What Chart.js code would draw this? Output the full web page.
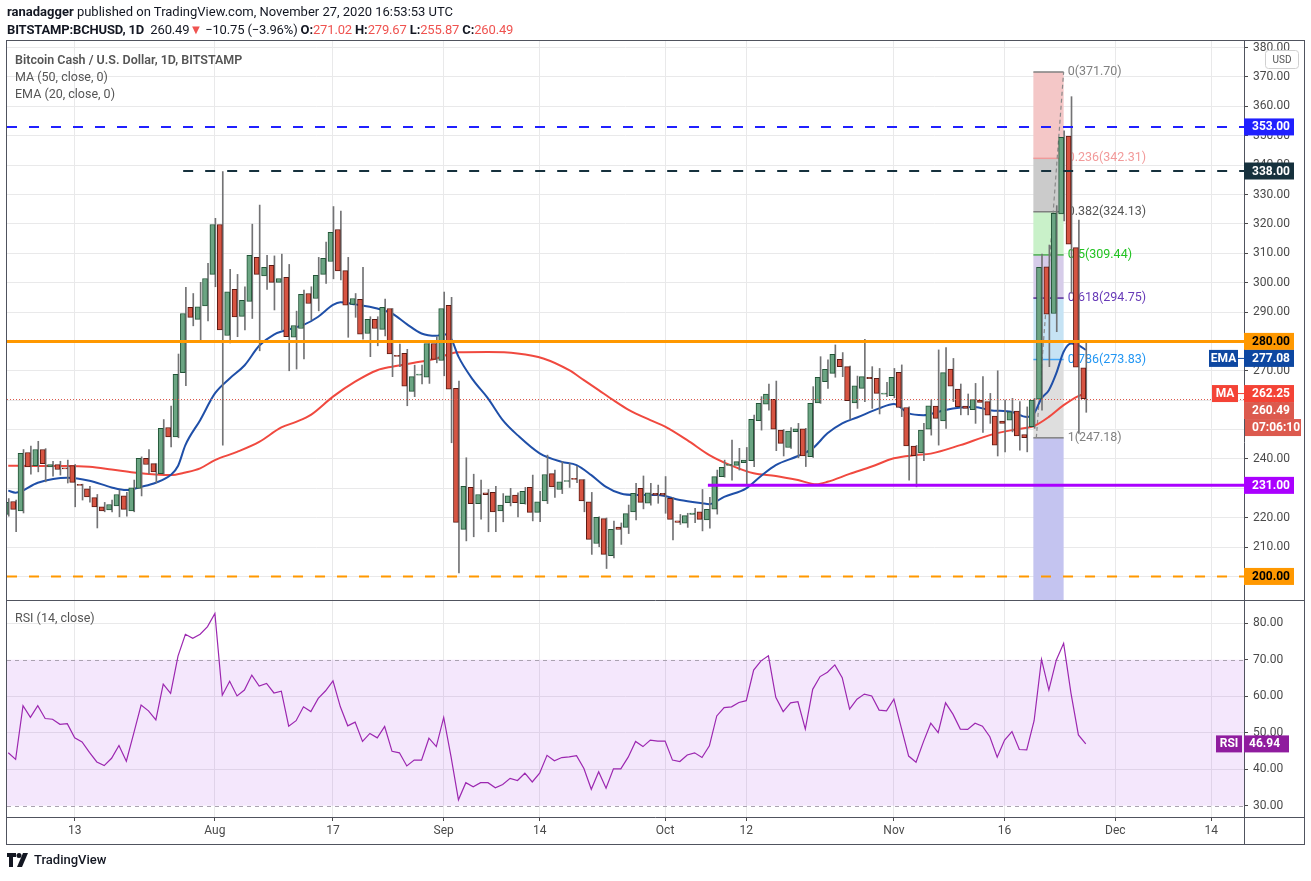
<!DOCTYPE html>
<html>
<head>
<meta charset="utf-8">
<title>BCHUSD 1D</title>
<script src="https://cdn.jsdelivr.net/npm/chart.js@4.4.1/dist/chart.umd.min.js"></script>
<style>
  html, body { margin: 0; padding: 0; background: #fff; }
  body { width: 1311px; height: 881px; position: relative; overflow: hidden; font-family: Roboto, sans-serif; color: #131722; }
  #chart { position: absolute; left: 0; top: 0; }
  .txt { position: absolute; white-space: nowrap; }
  .hdr { font-size: 13px; left: 7px; }
  .red { color: #ef5350; }
  .leg { left: 15px; font-size: 12.5px; color: #555; }
  #logo { left: 7px; top: 852px; font-size: 13px; font-weight: 500; color: #131722; display: flex; align-items: center; gap: 5px; }
</style>
</head>
<body>
<canvas id="chart" width="1311" height="881"></canvas>

<div class="txt hdr" style="top:4px"><b>ranadagger</b> published on TradingView.com, November 27, 2020 16:53:53 UTC</div>
<div class="txt hdr" style="top:22px; letter-spacing:-0.15px"><b>BITSTAMP:BCHUSD, 1D</b>&nbsp; 260.49<span class="red">▼</span> −10.75 (−3.96%) <b>O:</b><span class="red">271.02</span> <b>H:</b><span class="red">279.67</span> <b>L:</b><span class="red">255.87</span> <b>C:</b><span class="red">260.49</span></div>

<div class="txt leg" style="top:52px; font-weight:600">Bitcoin Cash / U.S. Dollar, 1D, BITSTAMP</div>
<div class="txt leg" style="top:69px">MA (50, close, 0)</div>
<div class="txt leg" style="top:86px">EMA (20, close, 0)</div>
<div class="txt leg" style="top:610px">RSI (14, close)</div>

<div class="txt" id="logo">
  <svg width="22" height="14" viewBox="0 0 22 14">
    <path d="M0 0h9v4H6v10H2V4H0z" fill="#131722"/>
    <circle cx="12" cy="2.5" r="2.5" fill="#131722"/>
    <path d="M16 0h5l-6 14h-5z" fill="#131722"/>
  </svg>
  <span>TradingView</span>
</div>

<script>
// Velas diarias desde el 4 de julio de 2020 (indice 0) hasta el 27 de noviembre (indice 146)
const candleOpen = [
  221.1, 225.5, 222.3, 242.2, 237.7, 243.2, 237.3, 238.1, 236.8, 237.7,
  231.2, 229.8, 226.8, 223.7, 222.6, 224.0, 227.4, 222.3, 230.0, 240.2,
  238.4, 235.0, 250.7, 247.5, 269.4, 291.6, 287.5, 292.1, 302.8, 319.8,
  282.0, 297.7, 288.5, 293.6, 308.6, 302.3, 305.9, 300.1, 301.8, 281.4,
  284.4, 296.3, 294.6, 302.8, 307.2, 318.1, 304.1, 292.6, 294.3, 282.7,
  287.5, 284.1, 291.2, 275.3, 275.9, 263.0, 268.5, 267.8, 279.3, 273.5,
  292.3, 264.0, 216.0, 230.3, 224.8, 228.5, 228.6, 222.3, 225.1, 227.7,
  224.8, 230.3, 221.8, 225.7, 235.0, 229.6, 232.3, 233.4, 233.0, 225.4,
  211.2, 219.7, 207.1, 216.8, 216.7, 222.0, 230.0, 224.9, 228.3, 228.3,
  226.6, 218.9, 218.1, 221.1, 222.0, 219.2, 222.9, 234.0, 237.8, 237.8,
  238.7, 239.4, 253.0, 258.6, 260.3, 249.8, 243.9, 249.3, 250.2, 240.8,
  259.1, 266.3, 269.1, 273.9, 271.4, 259.1, 264.0, 267.8, 267.4, 262.0,
  261.5, 269.5, 257.5, 244.4, 242.1, 250.1, 258.0, 252.9, 270.6, 263.8,
  258.0, 256.8, 260.0, 259.5, 254.6, 252.9, 253.2, 256.3, 248.3, 251.0,
  260.3, 305.4, 289.5, 323.4, 349.9, 311.9, 271.02
];
const candleHigh = [
  226.5, 226.0, 243.2, 244.4, 246.0, 243.5, 239.2, 239.2, 239.6, 238.1,
  231.4, 230.7, 227.9, 225.2, 226.0, 229.4, 228.6, 232.8, 240.7, 243.2,
  238.4, 253.4, 258.0, 275.7, 298.4, 296.3, 300.1, 306.6, 321.9, 337.8,
  304.5, 302.8, 298.6, 319.9, 326.4, 309.3, 309.1, 309.7, 306.2, 290.3,
  297.5, 298.6, 308.6, 313.8, 325.9, 324.4, 308.6, 296.3, 305.2, 288.4,
  288.4, 294.4, 291.2, 279.1, 277.3, 271.9, 271.9, 279.3, 281.6, 296.8,
  295.0, 266.5, 240.4, 234.8, 232.8, 229.6, 230.7, 228.2, 230.0, 228.5,
  230.3, 234.5, 229.0, 241.3, 236.2, 239.0, 238.4, 237.5, 233.0, 228.6,
  220.3, 219.9, 218.8, 218.2, 224.3, 231.7, 234.2, 231.7, 231.1, 234.0,
  226.8, 221.1, 221.5, 223.2, 229.6, 226.9, 236.2, 239.6, 246.4, 243.6,
  243.9, 254.9, 261.2, 265.5, 266.5, 250.0, 250.7, 252.1, 250.4, 264.6,
  274.8, 273.7, 278.8, 276.2, 271.6, 268.2, 280.7, 271.4, 270.8, 266.1,
  270.8, 272.0, 257.7, 244.6, 252.1, 260.1, 277.1, 277.9, 274.2, 265.5,
  262.1, 265.7, 268.0, 262.3, 270.0, 260.0, 260.6, 259.5, 257.7, 260.6,
  309.7, 312.8, 326.2, 351.7, 363.3, 321.3, 279.67
];
const candleLow = [
  220.5, 215.2, 221.6, 234.8, 235.6, 232.2, 234.1, 234.5, 231.8, 223.7,
  226.0, 225.3, 216.5, 222.0, 222.0, 220.3, 220.5, 222.0, 227.4, 235.0,
  231.9, 234.8, 244.1, 247.2, 264.9, 285.3, 280.2, 287.0, 298.6, 244.7,
  279.5, 281.6, 283.9, 287.8, 276.8, 297.7, 290.7, 283.9, 270.0, 270.6,
  274.0, 287.3, 290.4, 299.7, 301.3, 300.9, 281.4, 288.2, 280.8, 274.8,
  278.5, 281.9, 268.0, 271.4, 258.1, 261.2, 265.5, 265.7, 272.7, 268.3,
  245.5, 201.2, 212.1, 213.5, 219.5, 215.2, 215.2, 218.6, 224.0, 220.3,
  224.6, 218.9, 218.6, 224.8, 226.9, 228.2, 230.3, 231.9, 222.0, 207.5,
  210.1, 202.7, 206.3, 210.9, 214.6, 219.2, 223.0, 224.3, 224.9, 221.5,
  212.4, 217.7, 216.7, 218.3, 215.5, 216.4, 221.2, 233.8, 232.8, 236.2,
  231.3, 237.4, 249.8, 256.6, 242.8, 241.0, 243.6, 240.4, 237.4, 240.5,
  258.9, 264.0, 267.8, 268.0, 253.5, 257.2, 259.5, 257.2, 255.3, 261.2,
  260.8, 254.4, 232.8, 230.5, 239.4, 248.1, 244.7, 250.4, 259.5, 255.0,
  255.0, 252.1, 249.0, 252.1, 241.0, 242.4, 249.2, 243.0, 242.4, 250.4,
  256.6, 271.4, 283.3, 321.0, 296.4, 248.7, 255.87
];
const candleClose = [
  225.2, 222.8, 241.9, 237.3, 243.2, 238.4, 238.1, 236.4, 236.6, 232.0,
  231.0, 227.1, 223.7, 222.3, 224.5, 227.9, 222.8, 230.2, 240.2, 238.1,
  235.6, 250.4, 247.5, 268.8, 289.5, 288.2, 291.8, 301.4, 319.8, 283.9,
  296.9, 288.3, 294.0, 309.3, 302.8, 305.2, 300.1, 301.4, 281.6, 285.4,
  296.0, 292.9, 302.5, 308.3, 317.1, 304.0, 292.3, 294.6, 282.5, 287.5,
  284.4, 291.6, 275.7, 274.9, 264.8, 268.0, 268.7, 279.3, 273.9, 291.2,
  263.7, 218.4, 230.7, 224.8, 227.9, 227.8, 222.0, 224.3, 227.4, 225.1,
  229.0, 221.8, 225.4, 234.7, 230.5, 232.2, 232.6, 233.0, 225.7, 212.6,
  220.1, 207.5, 216.0, 216.0, 221.4, 228.3, 225.2, 228.5, 227.7, 227.7,
  219.4, 218.4, 220.7, 221.6, 219.4, 222.8, 234.0, 237.1, 238.2, 239.1,
  239.6, 253.5, 258.9, 262.1, 250.1, 245.3, 249.5, 250.2, 241.0, 258.9,
  267.8, 270.5, 275.6, 271.4, 259.8, 264.9, 268.0, 267.3, 262.3, 262.4,
  267.8, 257.5, 244.4, 241.1, 249.8, 258.1, 253.8, 269.4, 264.8, 257.8,
  257.2, 260.2, 259.2, 254.9, 244.7, 252.1, 256.0, 247.8, 247.2, 260.0,
  305.2, 289.3, 323.6, 349.5, 313.1, 271.2, 260.49
];

// EMA 20 y MA 50 (indice de dia, valor)
const emaDays = [0, 1, 4, 8, 11, 14, 16, 18, 20, 22, 23, 24, 26, 28, 30, 32, 34, 36, 38, 40, 42, 44, 45, 47, 50, 52, 54, 56, 58, 59, 60, 61, 63, 65, 67, 69, 72, 75, 77, 79, 81, 83, 85, 88, 91, 94, 95, 97, 100, 102, 104, 107, 109, 111, 113, 115, 118, 120, 122, 124, 126, 128, 131, 133, 136, 138, 139, 140, 141, 142, 143, 144, 145, 146];
const emaValues = [229.2, 228.5, 231.9, 233.6, 232.6, 230.3, 229.4, 230.5, 231.9, 234.5, 237.6, 244.7, 253.2, 262.3, 267.4, 271.8, 278.5, 282.3, 284.1, 285.6, 288.4, 292.4, 293.3, 292.6, 291.2, 289.5, 285.9, 282.7, 281.9, 282.4, 281.0, 274.8, 266.8, 260.6, 253.2, 248.1, 241.9, 239.0, 237.9, 234.5, 230.5, 228.2, 227.7, 227.7, 226.0, 224.9, 224.6, 227.1, 230.0, 234.2, 237.9, 241.0, 243.6, 248.7, 252.1, 254.1, 257.2, 258.7, 255.5, 254.9, 256.0, 257.2, 257.7, 256.6, 256.0, 254.3, 255.5, 260.6, 263.4, 269.1, 276.5, 279.3, 278.7, 277.08];
const maDays = [0, 4, 8, 11, 14, 17, 20, 22, 24, 26, 28, 31, 34, 37, 39, 41, 44, 47, 50, 52, 55, 58, 60, 61, 65, 69, 72.5, 76, 78, 80, 82, 84, 87, 89, 92, 95, 98, 101, 104, 107, 109.5, 111, 114, 117, 120, 123, 125, 129, 133, 136, 138, 139, 141, 143, 145, 146];
const maValues = [237.7, 237.6, 237.6, 237.3, 236.4, 235.4, 234.7, 234.5, 235.4, 236.8, 239.6, 242.4, 245.8, 250.7, 252.6, 255.0, 261.2, 266.3, 270.2, 271.4, 272.7, 274.2, 275.9, 276.3, 276.4, 275.9, 274.2, 270.2, 266.8, 263.4, 260.0, 256.8, 253.2, 251.0, 246.4, 241.3, 237.7, 235.1, 234.2, 232.8, 231.4, 232.2, 234.9, 237.4, 240.2, 241.3, 241.8, 244.7, 248.1, 249.8, 250.6, 251.2, 254.3, 258.3, 261.4, 262.25];

// RSI 14 diario
const rsiValues = [
  44.5, 42.7, 57.4, 54.2, 57.4, 53.9, 53.7, 52.3, 52.5, 48.6,
  47.5, 44.6, 42.0, 41.0, 43.0, 46.5, 42.2, 49.8, 57.6, 56.0,
  53.5, 63.3, 60.8, 71.0, 77.0, 75.9, 77.0, 79.1, 82.7, 60.3,
  64.1, 60.1, 61.7, 65.8, 62.8, 63.5, 60.9, 61.4, 51.8, 53.3,
  57.1, 55.8, 59.4, 61.5, 64.2, 57.1, 51.9, 52.9, 47.6, 49.8,
  48.6, 51.7, 44.9, 44.5, 40.9, 42.5, 42.5, 48.5, 46.2, 54.2,
  43.4, 31.6, 36.3, 35.2, 36.3, 36.3, 34.9, 35.8, 37.5, 36.9,
  38.9, 36.5, 38.9, 43.8, 42.3, 43.2, 43.4, 43.7, 40.2, 34.5,
  39.3, 34.8, 40.1, 40.1, 43.3, 47.6, 46.2, 48.0, 47.7, 47.7,
  42.5, 42.1, 43.9, 44.5, 43.2, 46.4, 54.6, 56.9, 57.1, 58.3,
  58.8, 67.2, 69.7, 71.1, 59.7, 55.8, 58.2, 58.5, 51.0, 61.9,
  65.4, 66.6, 68.6, 65.1, 56.5, 59.2, 60.6, 60.1, 56.2, 56.0,
  59.2, 51.4, 43.6, 41.9, 47.5, 52.6, 50.0, 58.2, 55.1, 51.0,
  50.9, 52.6, 51.8, 48.9, 43.3, 48.0, 50.3, 45.4, 45.3, 53.3,
  70.1, 61.7, 69.9, 74.5, 60.8, 49.4, 46.94
];

// Etiquetas del eje de fechas
const tickDays = [9, 28, 44, 59, 72, 89, 100, 120, 135, 150, 163];
const tickLabels = ['13', 'Aug', '17', 'Sep', '14', 'Oct', '12', 'Nov', '16', 'Dec', '14'];

// Niveles horizontales dibujados a mano en el grafico
const levelPrices = [353, 338, 280, 231, 200];
const levelStartDays = [-1, 23.7, -1, 94.8, -1];
const levelStyles = [
  { color: '#2020ff', width: 2, dash: [10, 12] },
  { color: '#16313d', width: 2, dash: [10, 12] },
  { color: '#ff9800', width: 3, dash: [] },
  { color: '#aa00ff', width: 3, dash: [] },
  { color: '#ff9800', width: 2, dash: [10, 12] }
];

// Retroceso de Fibonacci
const fibRatios = ['0', '0.236', '0.382', '0.5', '0.618', '0.786', '1'];
const fibPrices = [371.70, 342.31, 324.13, 309.44, 294.75, 273.83, 247.18];
const fibStartDay = 138.9;
const fibEndDay = 143.0;
const fibFills = ['#f4c7c7', '#cbcbcb', '#c9f1c9', '#d6cce9', '#c6e3f4', '#dedede'];
const fibBelowFill = '#c4c4f0';
const fibLineColors = ['#808080', '#f09a9a', '#808080', '#4caf50', '#5b2c99', '#42a5f5', '#808080'];
const fibTextColors = ['#808080', '#f29a9a', '#555555', '#22c322', '#673ab7', '#2196f3', '#808080'];

const lastPrice = 260.49;
const GREEN = '#6ba583', RED = '#d75442', GREEN_B = '#225437', RED_B = '#5b1a13';
const GRID = '#e9e9ea', TEXT = '#4a4a4a', FRAME = '#50535e';
const FONT = 'Roboto, sans-serif';

// Cajas de precio en el eje derecho
function drawBoxes(ctx, y, r, area) {
  const boxes = [
    { v: 353, bg: '#2020ff', fg: '#fff', t: '353.00' },
    { v: 338, bg: '#16313d', fg: '#fff', t: '338.00' },
    { v: 280, bg: '#ff9800', fg: '#000', t: '280.00' },
    { v: 277.08, bg: '#0d47a1', fg: '#fff', t: '277.08', tag: 'EMA' },
    { v: 262.25, bg: '#f44336', fg: '#fff', t: '262.25', tag: 'MA' },
    { v: lastPrice, bg: '#dc5a4e', fg: '#fff', t: '260.49' },
    { v: lastPrice, bg: '#dc5a4e', fg: '#fff', t: '07:06:10', wide: true },
    { v: 231, bg: '#aa00ff', fg: '#fff', t: '231.00' },
    { v: 200, bg: '#ff9800', fg: '#000', t: '200.00' }
  ];
  const h = 17;
  let prevBottom = -1e9;
  ctx.font = 'bold 12px ' + FONT;
  ctx.textBaseline = 'middle';
  boxes.forEach(b => {
    let cy = y.getPixelForValue(b.v);
    if (cy - h / 2 < prevBottom) cy = prevBottom + h / 2;
    prevBottom = cy + h / 2;
    const x0 = area.right;
    const w = b.wide ? 56 : 50;
    ctx.fillStyle = b.bg;
    ctx.fillRect(x0 + (b.wide ? 1 : 0), cy - h / 2, w, h);
    ctx.fillStyle = b.fg;
    ctx.textAlign = 'left';
    ctx.fillText(b.t, x0 + 8, cy + 0.5);
    if (b.tag) {
      const tw = b.tag === 'EMA' ? 29 : 26;
      ctx.fillStyle = b.bg;
      ctx.fillRect(x0 - tw - 6, cy - h / 2, tw, h);
      ctx.fillRect(x0 - 6, cy - 0.5, 6, 1);
      ctx.fillStyle = '#fff';
      ctx.textAlign = 'center';
      ctx.fillText(b.tag, x0 - tw / 2 - 6, cy + 0.5);
    }
  });

  // RSI
  const ry = r.getPixelForValue(rsiValues[rsiValues.length - 1]);
  ctx.fillStyle = '#8f1c9e';
  ctx.fillRect(area.right, ry - h / 2, 45, h);
  ctx.fillRect(area.right - 28, ry - h / 2, 26, h);
  ctx.fillStyle = '#fff';
  ctx.textAlign = 'left';
  ctx.fillText('46.94', area.right + 5, ry + 0.5);
  ctx.textAlign = 'center';
  ctx.fillText('RSI', area.right - 15, ry + 0.5);

  // USD
  ctx.fillStyle = '#fff';
  ctx.strokeStyle = '#d0d0d0';
  ctx.lineWidth = 1;
  ctx.beginPath();
  ctx.roundRect(1265.5, 50.5, 33, 18, 3);
  ctx.fill();
  ctx.stroke();
  ctx.fillStyle = '#555';
  ctx.font = '10px ' + FONT;
  ctx.fillText('USD', 1282, 60);
}

const overlays = {
  id: 'overlays',
  beforeDatasetsDraw(chart) {
    const { ctx, chartArea, scales } = chart;
    const x = scales.x, y = scales.y, r = scales.rsi;
    ctx.save();

    // Banda RSI 30-70
    const y70 = r.getPixelForValue(70), y30 = r.getPixelForValue(30);
    ctx.fillStyle = 'rgba(155, 39, 230, 0.11)';
    ctx.fillRect(chartArea.left, y70, chartArea.right - chartArea.left, y30 - y70);
    ctx.strokeStyle = '#aaa2b0';
    ctx.lineWidth = 1;
    ctx.setLineDash([4, 4]);
    [y70, y30].forEach(py => {
      ctx.beginPath();
      ctx.moveTo(chartArea.left, Math.round(py) + 0.5);
      ctx.lineTo(chartArea.right, Math.round(py) + 0.5);
      ctx.stroke();
    });
    ctx.setLineDash([]);

    // Fibonacci
    ctx.beginPath();
    ctx.rect(chartArea.left, y.top, chartArea.right - chartArea.left, y.bottom - y.top);
    ctx.clip();
    const fx0 = x.getPixelForValue(fibStartDay), fx1 = x.getPixelForValue(fibEndDay);
    for (let i = 0; i < fibFills.length; i++) {
      const a = y.getPixelForValue(fibPrices[i]), b = y.getPixelForValue(fibPrices[i + 1]);
      ctx.fillStyle = fibFills[i];
      ctx.fillRect(fx0, a, fx1 - fx0, b - a);
    }
    const yLow = y.getPixelForValue(fibPrices[fibPrices.length - 1]);
    ctx.fillStyle = fibBelowFill;
    ctx.fillRect(fx0, yLow, fx1 - fx0, y.bottom - yLow);
    ctx.font = '12.5px ' + FONT;
    ctx.textAlign = 'left';
    ctx.textBaseline = 'middle';
    fibPrices.forEach((p, i) => {
      const py = y.getPixelForValue(p);
      ctx.strokeStyle = fibLineColors[i];
      ctx.lineWidth = 1.5;
      ctx.beginPath();
      ctx.moveTo(fx0, py);
      ctx.lineTo(fx1, py);
      ctx.stroke();
      ctx.fillStyle = fibTextColors[i];
      ctx.fillText(fibRatios[i] + '(' + p.toFixed(2) + ')', fx1 + 4, py);
    });
    // linea de tendencia punteada
    ctx.strokeStyle = '#8a8a8a';
    ctx.lineWidth = 1.2;
    ctx.setLineDash([4, 3]);
    ctx.beginPath();
    ctx.moveTo(x.getPixelForValue(139.3), y.getPixelForValue(fibPrices[6]));
    ctx.lineTo(x.getPixelForValue(fibEndDay), y.getPixelForValue(fibPrices[0]));
    ctx.stroke();
    ctx.restore();
  },
  afterDatasetsDraw(chart) {
    const { ctx, chartArea, scales } = chart;
    const x = scales.x, y = scales.y, r = scales.rsi;
    ctx.save();
    ctx.beginPath();
    ctx.rect(chartArea.left, y.top, chartArea.right - chartArea.left, y.bottom - y.top);
    ctx.clip();

    // Precio actual
    const pyLast = Math.round(y.getPixelForValue(lastPrice)) + 0.5;
    ctx.strokeStyle = '#dc5a4e';
    ctx.lineWidth = 1;
    ctx.setLineDash([1, 2]);
    ctx.beginPath();
    ctx.moveTo(chartArea.left, pyLast);
    ctx.lineTo(chartArea.right, pyLast);
    ctx.stroke();

    // Soportes y resistencias
    levelPrices.forEach((p, i) => {
      const s = levelStyles[i];
      const py = y.getPixelForValue(p);
      const xs = levelStartDays[i] < 0 ? chartArea.left : x.getPixelForValue(levelStartDays[i]);
      ctx.strokeStyle = s.color;
      ctx.lineWidth = s.width;
      ctx.setLineDash(s.dash);
      ctx.beginPath();
      ctx.moveTo(xs, py);
      ctx.lineTo(chartArea.right, py);
      ctx.stroke();
    });
    ctx.restore();

    // Marco de los paneles
    ctx.save();
    ctx.strokeStyle = FRAME;
    ctx.lineWidth = 1;
    const L = chartArea.left - 0.5, R = 1304.5, T = chartArea.top + 0.5, B = 844.5;
    ctx.strokeRect(L, T, R - L, B - T);
    ctx.beginPath();
    ctx.moveTo(chartArea.right + 0.5, T); ctx.lineTo(chartArea.right + 0.5, B);
    ctx.moveTo(L, Math.round(y.bottom) + 0.5); ctx.lineTo(R, Math.round(y.bottom) + 0.5);
    ctx.moveTo(L, Math.round(chartArea.bottom) + 0.5); ctx.lineTo(R, Math.round(chartArea.bottom) + 0.5);
    ctx.stroke();

    drawBoxes(ctx, y, r, chartArea);
    ctx.restore();
  }
};

// Datos para Chart.js
const days = candleOpen.map((v, i) => i);
const wickData = days.map(i => ({ x: i, y: [candleLow[i], candleHigh[i]] }));
const bodyData = days.map(i => ({ x: i, y: [candleOpen[i], candleClose[i]] }));
const isUp = days.map(i => candleClose[i] >= candleOpen[i]);

Chart.defaults.font.family = FONT;

const ctx = document.getElementById('chart').getContext('2d');
const chart = new Chart(ctx, {
  type: 'bar',
  data: {
    datasets: [
      {
        label: 'Cuerpo',
        data: bodyData,
        yAxisID: 'y',
        order: 0,
        barThickness: 5,
        minBarLength: 1,
        borderWidth: 1,
        borderSkipped: false,
        backgroundColor: isUp.map(u => u ? GREEN : RED),
        borderColor: isUp.map(u => u ? GREEN_B : RED_B)
      },
      {
        label: 'Mecha',
        data: wickData,
        yAxisID: 'y',
        order: 1,
        barThickness: 1,
        borderWidth: 0,
        backgroundColor: '#737375'
      },
      {
        type: 'line',
        label: 'EMA 20',
        data: emaDays.map((d, i) => ({ x: d, y: emaValues[i] })),
        yAxisID: 'y',
        order: 2,
        borderColor: '#1f4fa8',
        borderWidth: 2,
        pointRadius: 0,
        cubicInterpolationMode: 'monotone'
      },
      {
        type: 'line',
        label: 'MA 50',
        data: maDays.map((d, i) => ({ x: d, y: maValues[i] })),
        yAxisID: 'y',
        order: 3,
        borderColor: '#f0493f',
        borderWidth: 2,
        pointRadius: 0,
        cubicInterpolationMode: 'monotone'
      },
      {
        type: 'line',
        label: 'RSI',
        data: rsiValues.map((v, i) => ({ x: i, y: v })),
        yAxisID: 'rsi',
        order: 4,
        borderColor: '#9c27b0',
        borderWidth: 1.2,
        pointRadius: 0,
        tension: 0
      }
    ]
  },
  options: {
    responsive: false,
    animation: false,
    events: [],
    layout: { padding: { top: 40, left: 7, right: 7, bottom: 37 } },
    plugins: { legend: { display: false }, tooltip: { enabled: false } },
    scales: {
      x: {
        type: 'linear',
        min: -0.17,
        max: 167.44,
        offset: false,
        border: { display: false },
        grid: { color: GRID, offset: false, tickLength: 4, tickColor: TEXT },
        afterBuildTicks: s => { s.ticks = tickDays.map(v => ({ value: v })); },
        afterFit: s => { s.height = 27; },
        ticks: {
          autoSkip: false,
          maxRotation: 0,
          color: TEXT,
          padding: 3,
          font: { size: 12 },
          callback: v => tickLabels[tickDays.indexOf(v)]
        }
      },
      y: {
        position: 'right',
        stack: 'panes',
        stackWeight: 560,
        min: 191.98,
        max: 382.59,
        border: { display: false },
        grid: { color: GRID, tickLength: 4, tickColor: TEXT },
        afterFit: s => { s.width = 60; },
        ticks: {
          stepSize: 10,
          autoSkip: false,
          includeBounds: false,
          color: TEXT,
          padding: 5,
          font: { size: 12 },
          callback: v => v.toFixed(2)
        }
      },
      rsi: {
        position: 'right',
        stack: 'panes',
        stackWeight: 217,
        min: 26.9,
        max: 86.39,
        border: { display: false },
        grid: {
          color: c => (c.tick && (c.tick.value === 30 || c.tick.value === 70)) ? 'rgba(0,0,0,0)' : GRID,
          tickLength: 4,
          tickColor: TEXT
        },
        afterFit: s => { s.width = 60; },
        ticks: {
          stepSize: 10,
          autoSkip: false,
          includeBounds: false,
          color: TEXT,
          padding: 5,
          font: { size: 12 },
          callback: v => v.toFixed(2)
        }
      }
    }
  },
  plugins: [overlays]
});
</script>
</body>
</html>
